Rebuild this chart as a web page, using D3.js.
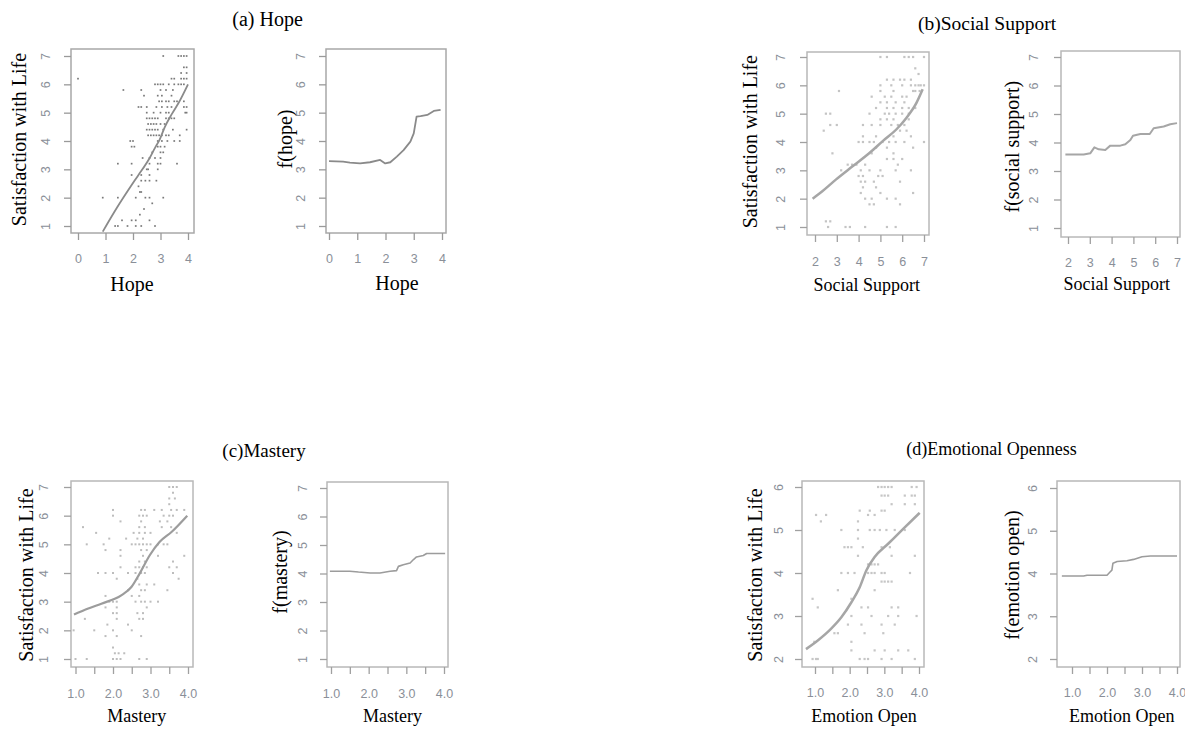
<!DOCTYPE html>
<html>
<head>
<meta charset="utf-8">
<script src="https://cdn.jsdelivr.net/npm/d3@7"></script>
<style>
body { margin: 0; background: #fff; }
svg { display: block; }
.lbl { font-family: "Liberation Serif", "Times New Roman", serif; fill: #000; }
.tick text { font-family: "Liberation Sans", Arial, sans-serif; fill: #8a8f98; }
</style>
</head>
<body>
<div id="chart-area"></div>
<script>
// tick values
const hopeTicks = [0, 1, 2, 3, 4]
const supportTicks = [2, 3, 4, 5, 6, 7]
const halfTicks = [1, 1.5, 2, 2.5, 3, 3.5, 4]
const lifeTicks17 = [1, 2, 3, 4, 5, 6, 7]
const lifeTicks26 = [2, 3, 4, 5, 6]

// scatter data, grouped by satisfaction level: [y, [x values]]
const hopeRows = [
  [7, [3.1, 3.65, 3.75, 3.85, 3.95]],
  [6.6, [3.85, 3.95]],
  [6.4, [3.75, 3.95]],
  [6.2, [0, 3.4, 3.5, 3.75, 3.85, 3.95]],
  [6.0, [2.8, 2.9, 3.0, 3.1, 3.3, 3.5, 3.65, 3.75, 3.85]],
  [5.8, [1.65, 2.3, 3.0, 3.2, 3.45]],
  [5.6, [2.4, 2.9, 3.05, 3.4]],
  [5.4, [2.95, 3.05, 3.2, 3.3, 3.5, 3.6, 3.85]],
  [5.2, [2.2, 2.3, 2.5, 2.85, 3.05, 3.25, 3.4, 3.85, 3.95]],
  [5.0, [2.5, 2.75, 3.0, 3.2, 3.3, 3.9, 3.95]],
  [4.8, [2.5, 2.6, 2.7, 2.8, 2.9, 3.2, 3.3, 3.4, 3.5]],
  [4.6, [2.55, 2.65, 2.75, 2.85, 3.0, 3.15]],
  [4.4, [2.5, 2.6, 2.7, 2.8, 2.9, 3.1, 3.45, 3.95]],
  [4.2, [2.55, 2.65, 2.75, 2.85, 2.95, 3.05, 3.2, 3.3, 3.7]],
  [4.0, [1.9, 2.0, 2.9, 3.05, 3.25, 3.5, 3.7]],
  [3.8, [1.95, 2.05, 2.9, 3.0, 3.15]],
  [3.6, [2.7, 3.0, 3.1]],
  [3.4, [2.35, 2.6, 2.8, 3.0]],
  [3.2, [1.45, 1.95, 2.6, 2.9, 3.0, 3.6]],
  [3.0, [2.5, 2.55, 2.9]],
  [2.8, [1.95, 2.3, 2.6]],
  [2.6, [2.3, 2.45, 2.6, 2.85]],
  [2.4, [2.2]],
  [2.2, [2.25, 2.3]],
  [2.0, [0.9, 1.45, 2.1, 2.45, 2.6, 3.1]],
  [1.8, [2.7]],
  [1.6, [2.4]],
  [1.4, [2.25]],
  [1.2, [1.6, 1.95, 2.1, 2.6]],
  [1.0, [1.35, 1.45, 1.8, 2.1, 2.3, 2.8]]
]
const supportRows = [
  [7, [5.0, 5.3, 6.1, 6.3, 6.5, 7.0]],
  [6.6, [6.6]],
  [6.4, [6.75]],
  [6.2, [5.3, 5.6, 5.9, 6.1, 6.4]],
  [6.0, [5.0, 5.5, 6.0, 6.4, 6.6, 6.75, 6.85, 7.0]],
  [5.8, [3.1, 5.0, 5.6, 6.5, 6.6, 6.8]],
  [5.6, [4.6, 5.2, 5.5, 6.0, 6.2]],
  [5.4, [5.0, 5.3, 5.7, 6.1]],
  [5.2, [4.8, 5.3, 5.6, 6.0, 6.3, 6.6]],
  [5.0, [2.5, 2.7, 4.5, 5.2, 5.4, 5.7, 6.0, 6.3]],
  [4.8, [5.0, 5.3, 5.6, 6.3]],
  [4.6, [2.7, 3.0, 4.2, 4.6, 5.0, 5.5, 5.8, 6.1]],
  [4.4, [2.4, 5.9, 6.2]],
  [4.2, [4.2, 4.8, 5.6, 6.4]],
  [4.0, [4.0, 4.2, 4.5, 4.7, 5.1, 5.4, 5.7, 6.1, 7.0]],
  [3.8, [4.8, 5.3, 6.5]],
  [3.6, [2.8, 4.6, 5.6]],
  [3.4, [5.3, 5.6, 6.0]],
  [3.2, [3.5, 3.7, 3.9, 4.3, 5.8]],
  [3.0, [3.2, 4.1, 4.5, 5.0, 5.7, 6.4]],
  [2.8, [4.0, 4.2, 4.9, 5.1]],
  [2.6, [4.1, 4.3, 4.7, 5.9]],
  [2.4, [4.2, 4.8]],
  [2.2, [4.1, 5.0, 6.5]],
  [2.0, [4.3, 4.6, 5.3, 5.7]],
  [1.8, [4.5, 4.7, 5.9]],
  [1.2, [2.5, 2.7]],
  [1.0, [2.6, 3.4, 3.6, 4.3, 5.3, 5.7]]
]
const masteryRows = [
  [7.0, [3.5, 3.6, 3.7]],
  [6.8, [3.6]],
  [6.6, [3.5, 3.65]],
  [6.4, [3.5]],
  [6.2, [2.0, 2.75, 2.85, 3.1, 3.3, 3.55, 3.7, 3.9]],
  [6.0, [2.0, 2.7, 2.8, 2.9, 3.35, 3.5, 3.6]],
  [5.8, [2.2, 2.75, 3.25, 3.45]],
  [5.6, [1.2, 2.7, 2.85, 3.3, 3.55]],
  [5.4, [1.55, 2.55, 2.7, 2.85, 3.0, 3.7]],
  [5.2, [1.9, 2.35, 2.65, 2.8]],
  [5.0, [1.3, 1.75, 2.5, 2.6, 2.7, 2.8, 2.9, 3.0, 3.2, 3.35, 3.45]],
  [4.8, [1.8, 2.2, 2.75, 2.9]],
  [4.6, [2.2, 2.8, 3.2, 3.9]],
  [4.4, [2.7, 2.85, 3.6]],
  [4.2, [2.2, 2.6, 2.7, 2.8, 2.9, 3.5, 3.7]],
  [4.0, [1.6, 1.8, 2.0, 2.4, 2.6, 2.75, 2.85, 3.6]],
  [3.8, [2.1, 2.65, 3.75]],
  [3.6, [2.7, 2.9, 3.1]],
  [3.4, [2.4, 2.75, 2.85, 3.45]],
  [3.2, [1.8, 2.5, 2.7]],
  [3.0, [1.9, 2.0, 2.1, 2.6, 2.75, 2.85, 3.0, 3.2]],
  [2.8, [1.8, 2.1, 2.9]],
  [2.6, [2.0, 2.1, 2.65, 2.8]],
  [2.4, [1.25, 2.1, 2.7, 2.8]],
  [2.2, [1.85, 2.4]],
  [2.0, [0.95, 1.5, 2.0, 2.5]],
  [1.8, [1.8, 2.1, 2.75]],
  [1.4, [2.0]],
  [1.2, [2.05, 2.15, 2.3]],
  [1.0, [1.0, 1.3, 2.0, 2.1, 2.2, 2.7, 2.9]]
]
const opennessRows = [
  [6.0, [2.82, 2.92, 3.01, 3.11, 3.21, 3.79, 3.93]],
  [5.8, [2.92, 3.01, 3.11, 3.59, 3.79, 3.88]],
  [5.6, [3.21, 3.59, 3.88]],
  [5.45, [2.29, 2.58, 2.92, 3.01]],
  [5.35, [1.03, 1.32, 2.53, 2.72]],
  [5.2, [1.17, 2.24]],
  [5.0, [1.76, 2.24, 2.58, 2.72, 2.87, 3.06, 3.3, 3.59]],
  [4.8, [2.24]],
  [4.6, [1.85, 1.95, 2.05, 2.38, 2.92, 3.16]],
  [4.4, [2.24, 3.21, 3.88]],
  [4.2, [2.53, 2.63, 2.72, 2.82]],
  [4.0, [1.76, 1.95, 2.14, 2.53, 2.63, 2.72, 2.92, 3.01, 3.74]],
  [3.8, [2.92, 3.01, 3.11, 3.21]],
  [3.6, [1.66, 2.72]],
  [3.4, [0.93, 2.05]],
  [3.2, [1.08, 2.34, 2.53, 3.21, 3.4]],
  [3.0, [2.05, 2.63, 3.11, 3.4, 3.93]],
  [2.8, [1.95, 2.34, 2.92, 3.3]],
  [2.6, [1.56, 1.66, 2.43, 2.97]],
  [2.4, [0.98, 2.05]],
  [2.2, [2.05, 2.72, 3.01, 3.4, 3.69]],
  [2.0, [0.93, 1.03, 1.08, 2.29, 2.43, 2.53, 2.92, 3.21, 3.88]]
]

// smooth fits in the scatter plots
const hopeFit = [[0.9, 0.8], [1.42, 1.65], [1.92, 2.4], [2.17, 2.76], [2.6, 3.39], [2.79, 3.74], [2.97, 4.05], [3.16, 4.5], [3.41, 4.95], [3.65, 5.33], [4.0, 6.0]]
const supportFit = [[1.89, 2.0], [2.35, 2.27], [2.97, 2.68], [3.74, 3.15], [4.51, 3.62], [5.12, 4.04], [5.74, 4.45], [6.2, 4.86], [6.66, 5.39], [6.94, 5.86]]
const masteryFit = [[0.96, 2.55], [1.34, 2.76], [1.69, 2.93], [2.22, 3.22], [2.49, 3.51], [2.71, 3.98], [2.98, 4.62], [3.24, 5.08], [3.56, 5.43], [3.98, 6.0]]
const opennessFit = [[0.74, 2.23], [1.08, 2.43], [1.46, 2.7], [1.76, 2.97], [2.05, 3.32], [2.29, 3.67], [2.48, 4.06], [2.72, 4.37], [3.11, 4.68], [3.5, 4.99], [4.02, 5.4]]

// partial effect curves f(.)
const hopeF = [[0, 3.29], [0.5, 3.27], [0.74, 3.24], [1.1, 3.21], [1.45, 3.25], [1.81, 3.33], [1.99, 3.21], [2.17, 3.25], [2.4, 3.45], [2.64, 3.68], [2.88, 3.98], [3.0, 4.27], [3.1, 4.86], [3.24, 4.88], [3.48, 4.92], [3.71, 5.06], [3.95, 5.1]]
const supportF = [[1.88, 3.58], [2.72, 3.58], [3.02, 3.62], [3.21, 3.83], [3.41, 3.76], [3.71, 3.74], [3.94, 3.89], [4.4, 3.89], [4.63, 3.94], [4.86, 4.09], [4.98, 4.24], [5.32, 4.3], [5.75, 4.3], [5.93, 4.5], [6.39, 4.56], [6.69, 4.64], [7.0, 4.68]]
const masteryF = [[0.97, 4.08], [1.5, 4.08], [1.73, 4.05], [2.04, 4.02], [2.3, 4.02], [2.57, 4.08], [2.74, 4.1], [2.79, 4.25], [2.92, 4.31], [3.1, 4.37], [3.19, 4.49], [3.27, 4.58], [3.45, 4.63], [3.54, 4.7], [3.72, 4.7], [4.03, 4.7]]
const opennessF = [[0.71, 3.94], [1.33, 3.94], [1.43, 3.96], [2.0, 3.96], [2.08, 4.03], [2.14, 4.08], [2.17, 4.24], [2.29, 4.28], [2.57, 4.3], [2.76, 4.33], [3.0, 4.39], [3.24, 4.41], [3.62, 4.41], [4.0, 4.41]]

const flat = rows => rows.flatMap(r => r[1].map(x => [x, r[0]]))

const svg = d3.select("#chart-area").append("svg")
  .attr("width", 1185)
  .attr("height", 734)

let clipN = 0
const plain = d => d
const oneDec = d => Number.isInteger(d) ? d.toFixed(1) : ""

function panel(cfg) {
  const b = cfg.box
  const x = d3.scaleLinear().domain(cfg.xd).range(cfg.xr)
  const y = d3.scaleLinear().domain(cfg.yd).range(cfg.yr)
  const id = "clip" + (clipN++)
  svg.append("clipPath").attr("id", id)
    .append("rect")
    .attr("x", b[0]).attr("y", b[1])
    .attr("width", b[2] - b[0]).attr("height", b[3] - b[1])

  if (cfg.points) {
    svg.append("g").attr("clip-path", `url(#${id})`)
      .selectAll("rect").data(cfg.points).join("rect")
      .attr("x", d => x(d[0]) - cfg.dot / 2)
      .attr("y", d => y(d[1]) - cfg.dot / 2)
      .attr("width", cfg.dot)
      .attr("height", cfg.dot)
      .attr("fill", cfg.dotColor)
  }

  svg.append("path").datum(cfg.line)
    .attr("clip-path", `url(#${id})`)
    .attr("d", d3.line().x(d => x(d[0])).y(d => y(d[1])).curve(cfg.smooth ? d3.curveMonotoneX : d3.curveLinear))
    .attr("fill", "none")
    .attr("stroke", cfg.lineColor)
    .attr("stroke-width", cfg.lw)
    .attr("stroke-linejoin", "round")

  // plot box
  svg.append("rect")
    .attr("x", b[0]).attr("y", b[1])
    .attr("width", b[2] - b[0]).attr("height", b[3] - b[1])
    .attr("fill", "none")
    .attr("stroke", cfg.boxColor)
    .attr("stroke-width", 1.5)

  // x axis
  const xa = svg.append("g")
    .attr("transform", `translate(0, ${b[3]})`)
    .call(d3.axisBottom(x).tickValues(cfg.xt).tickFormat(cfg.xf || plain).tickSize(7).tickSizeOuter(0))
    .attr("font-size", 12.5)
  xa.select(".domain").remove()
  xa.selectAll(".tick line").attr("stroke", cfg.tickColor).attr("stroke-width", 1.3)
  xa.selectAll(".tick text").attr("y", cfg.xly - b[3]).attr("dy", "0.36em")

  // y axis, labels turned like R does
  const ya = svg.append("g")
    .attr("transform", `translate(${b[0]}, 0)`)
    .call(d3.axisLeft(y).tickValues(cfg.yt).tickFormat(plain).tickSize(7).tickSizeOuter(0))
    .attr("font-size", 12.5)
  ya.select(".domain").remove()
  ya.selectAll(".tick line").attr("stroke", cfg.tickColor).attr("stroke-width", 1.3)
  ya.selectAll(".tick text")
    .attr("x", 0)
    .attr("dy", "0.36em")
    .attr("text-anchor", "middle")
    .attr("transform", `translate(${cfg.ylx - b[0]}, 0) rotate(-90)`)

  // axis titles
  svg.append("text").attr("class", "lbl")
    .attr("x", cfg.xTitle[1]).attr("y", cfg.xTitle[2])
    .attr("text-anchor", "middle")
    .attr("font-size", cfg.xTitle[3])
    .text(cfg.xTitle[0])
  svg.append("text").attr("class", "lbl")
    .attr("transform", `translate(${cfg.yTitle[1]}, ${cfg.yTitle[2]}) rotate(-90)`)
    .attr("text-anchor", "middle")
    .attr("font-size", 20)
    .text(cfg.yTitle[0])
}

// (a) Hope
panel({
  box: [71, 49, 194, 233], xd: [0, 4], xr: [78, 188], yd: [1, 7], yr: [226, 56],
  xt: hopeTicks, yt: lifeTicks17, xly: 258, ylx: 45,
  points: flat(hopeRows), dot: 1.7, dotColor: "#7a7a7a",
  line: hopeFit, smooth: true, lineColor: "#8a8a8a", lw: 1.8,
  boxColor: "#a8a8a8", tickColor: "#9a9a9a",
  xTitle: ["Hope", 132, 291, 20], yTitle: ["Satisfaction with Life", 26, 139.5]
})
panel({
  box: [326, 49, 446, 233], xd: [0, 4], xr: [329, 442], yd: [1, 7], yr: [226, 56],
  xt: hopeTicks, yt: lifeTicks17, xly: 258, ylx: 300,
  line: hopeF, lineColor: "#8a8a8a", lw: 1.8,
  boxColor: "#a8a8a8", tickColor: "#9a9a9a",
  xTitle: ["Hope", 397, 290, 20], yTitle: ["f(hope)", 292, 139]
})

// (b) Social Support
panel({
  box: [807, 52, 929, 235], xd: [2, 7], xr: [815, 924], yd: [1, 7], yr: [227, 57],
  xt: supportTicks, yt: lifeTicks17, xly: 261, ylx: 780,
  points: flat(supportRows), dot: 2.2, dotColor: "#c4c4c4",
  line: supportFit, smooth: true, lineColor: "#a6a6a6", lw: 2.5,
  boxColor: "#b8b8b8", tickColor: "#a0a0a0",
  xTitle: ["Social Support", 866.7, 290.7, 18], yTitle: ["Satisfaction with Life", 757, 141.7]
})
panel({
  box: [1061, 51, 1180, 237], xd: [2, 7], xr: [1068, 1177], yd: [1, 7], yr: [228, 57],
  xt: supportTicks, yt: lifeTicks17, xly: 262, ylx: 1033,
  line: supportF, lineColor: "#a6a6a6", lw: 2,
  boxColor: "#b8b8b8", tickColor: "#a0a0a0",
  xTitle: ["Social Support", 1116.7, 290, 18], yTitle: ["f(social support)", 1019, 146.7]
})

// (c) Mastery
panel({
  box: [71, 481, 193, 667], xd: [1, 4], xr: [75.5, 188], yd: [1, 7], yr: [659, 487],
  xt: halfTicks, xf: oneDec, yt: lifeTicks17, xly: 693, ylx: 43.5,
  points: flat(masteryRows), dot: 2, dotColor: "#bdbdbd",
  line: masteryFit, smooth: true, lineColor: "#9c9c9c", lw: 2.2,
  boxColor: "#b8b8b8", tickColor: "#a0a0a0",
  xTitle: ["Mastery", 136.7, 721.7, 18], yTitle: ["Satisfaction with Life", 33, 575]
})
panel({
  box: [327, 482, 448, 667], xd: [1, 4], xr: [331, 444], yd: [1, 7], yr: [659, 488],
  xt: halfTicks, xf: oneDec, yt: lifeTicks17, xly: 693, ylx: 302,
  line: masteryF, lineColor: "#9c9c9c", lw: 1.6,
  boxColor: "#b8b8b8", tickColor: "#a0a0a0",
  xTitle: ["Mastery", 392.5, 721.7, 18], yTitle: ["f(mastery)", 287, 572]
})

// (d) Emotional Openness
panel({
  box: [802, 481, 924, 667], xd: [1, 4], xr: [815, 919], yd: [2, 6], yr: [659, 487],
  xt: halfTicks, xf: oneDec, yt: lifeTicks26, xly: 692.5, ylx: 778,
  points: flat(opennessRows), dot: 2.2, dotColor: "#c6c6c6",
  line: opennessFit, smooth: true, lineColor: "#a6a6a6", lw: 2.5,
  boxColor: "#b8b8b8", tickColor: "#a0a0a0",
  xTitle: ["Emotion Open", 864, 722, 18], yTitle: ["Satisfaction with Life", 762, 575]
})
panel({
  box: [1057, 481, 1180, 667], xd: [1, 4], xr: [1072, 1177], yd: [2, 6], yr: [659, 488],
  xt: halfTicks, xf: oneDec, yt: lifeTicks26, xly: 692, ylx: 1032,
  line: opennessF, lineColor: "#9c9c9c", lw: 1.6,
  boxColor: "#b8b8b8", tickColor: "#a0a0a0",
  xTitle: ["Emotion Open", 1121.7, 721.7, 18], yTitle: ["f(emotion open)", 1018.5, 575]
})

// panel titles
const titles = [
  ["(a) Hope", 267.5, 26, 20],
  ["(b)Social Support", 987, 30, 19.5],
  ["(c)Mastery", 264, 457, 19],
  ["(d)Emotional Openness", 991.5, 455, 18]
]
svg.selectAll("text.ttl").data(titles).join("text")
  .attr("class", "lbl ttl")
  .attr("x", d => d[1])
  .attr("y", d => d[2])
  .attr("text-anchor", "middle")
  .attr("font-size", d => d[3])
  .text(d => d[0])
</script>
</body>
</html>
